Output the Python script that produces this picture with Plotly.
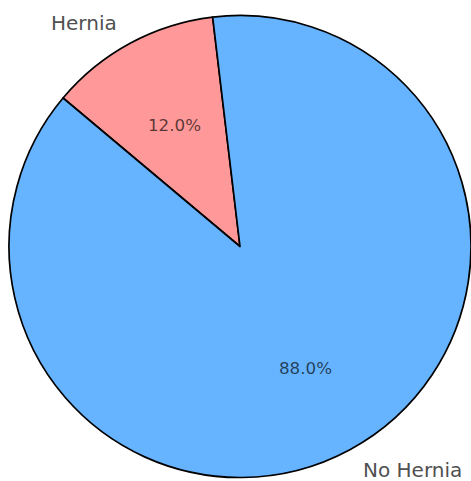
import numpy as np
import plotly.graph_objects as go

labels = ["Hernia", "No Hernia"]
values = [12.0, 88.0]
colors = ["#ff9999", "#66b3ff"]

W, H = 471, 481
cx_px, cy_px, R = 240.0, 246.5, 231.0
start_deg = 96.8  # matplotlib-style start angle (ccw from +x)

vals = np.array(values)
fracs = vals / vals.sum()
edges = start_deg + 360 * np.concatenate([[0], np.cumsum(fracs)])
mids = np.deg2rad((edges[:-1] + edges[1:]) / 2)

# plotly draws the first slice clockwise from `rotation` (deg clockwise from 12 o'clock)
end_first = start_deg + 360 * fracs[0]
fig = go.Figure(go.Pie(
    labels=labels, values=values, sort=False, direction="counterclockwise",
    rotation=-(end_first - 90), textinfo="none", hoverinfo="label+percent",
    marker=dict(colors=colors, line=dict(color="black", width=1.7)),
    domain=dict(x=[(cx_px - R) / W, (cx_px + R) / W],
                y=[(H - cy_px - R) / H, (H - cy_px + R) / H]),
    showlegend=False,
))

annotations = []
for lab, f, a in zip(labels, fracs, mids):
    lx = cx_px + 1.1 * R * np.cos(a)
    ly = cy_px - 1.1 * R * np.sin(a)
    annotations.append(dict(
        x=lx / W, y=1 - ly / H, xref="paper", yref="paper", text=lab,
        showarrow=False, xanchor="left" if np.cos(a) > 0 else "right",
        yanchor="middle", font=dict(family="DejaVu Sans", size=20, color="#505050")))
    px = cx_px + 0.6 * R * np.cos(a)
    py = cy_px - 0.6 * R * np.sin(a)
    annotations.append(dict(
        x=px / W, y=1 - py / H, xref="paper", yref="paper", text=f"{f*100:.1f}%",
        showarrow=False, xanchor="center", yanchor="middle",
        font=dict(family="DejaVu Sans", size=16.7, color="rgba(0,0,0,0.66)")))

fig.update_layout(
    width=W, height=H, margin=dict(l=0, r=0, t=0, b=0),
    paper_bgcolor="white", plot_bgcolor="white",
    annotations=annotations,
)

fig.write_html("out.html")
